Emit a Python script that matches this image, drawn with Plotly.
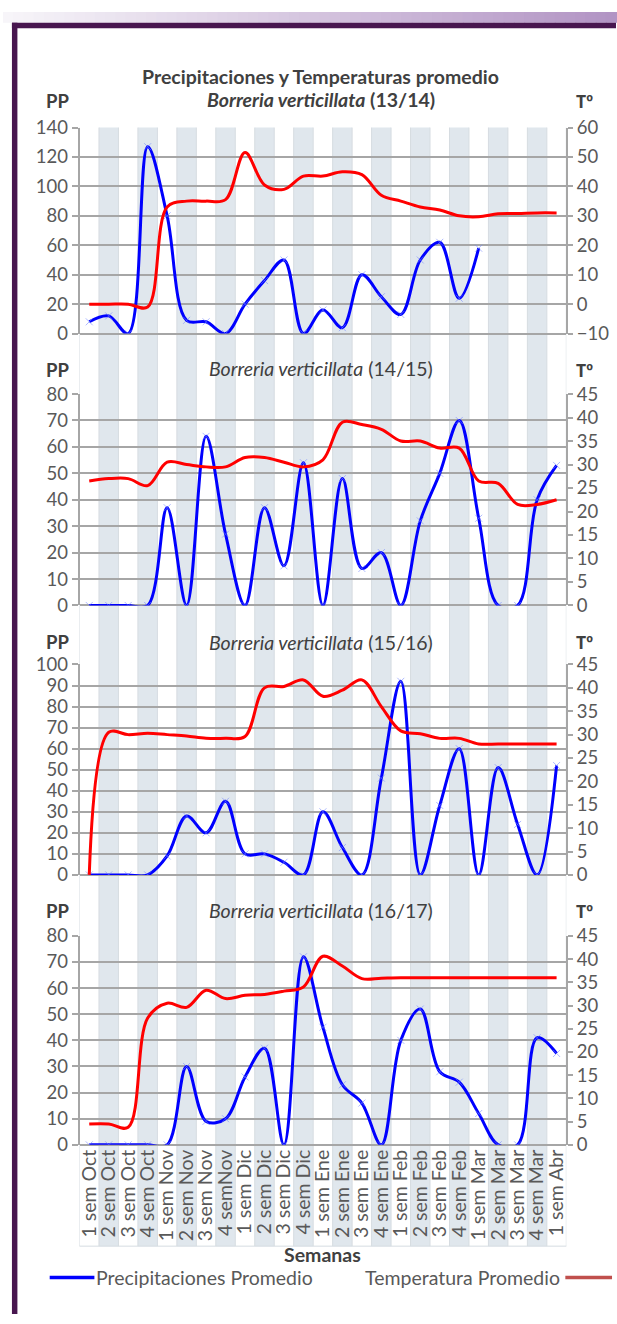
import plotly.graph_objects as go

# ---------------- data ----------------
categories = ["1 sem Oct", "2 sem Oct", "3 sem Oct", "4 sem Oct",
              "1 sem Nov", "2 sem Nov", "3 sem Nov", "4 semNov",
              "1 sem Dic", "2 sem Dic", "3 sem Dic", "4 sem Dic",
              "1 sem Ene", "2 sem Ene", "3 sem Ene", "4 sem Ene",
              "1 sem Feb", "2 sem Feb", "3 sem Feb", "4 sem Feb",
              "1 sem Mar", "2 sem Mar", "3 sem Mar", "4 sem Mar",
              "1 sem Abr"]

seasons = ["13/14", "14/15", "15/16", "16/17"]

pp_1314 = [8, 12, 0, 127, 80, 9, 8, 0, 20, 36, 50, 0, 16, 4, 40, 25, 13, 50, 62, 24, 58,
           None, None, None, None]
t_1314 = [0, 0, 0, -1, 33, 35, 35, 35.5, 51.5, 40.5, 39, 43.5, 43.5, 45, 44, 37, 35, 33,
          32, 30, 29.7, 30.7, 30.8, 31, 31]

pp_1415 = [0, 0, 0, 0, 37, 0, 64, 27, 0, 37, 15, 54, 0, 48, 14, 20, 0, 32, 50, 70, 33,
           0, 0, 40, 53]
t_1415 = [26.5, 27, 27, 25.5, 30.5, 30, 29.5, 29.5, 31.5, 31.5, 30.5, 29.5, 31, 39, 38.5,
          37.5, 35, 35, 33.5, 33.5, 26.5, 26, 21.5, 21.5, 22.5]

pp_1516 = [0, 0, 0, 0, 9, 28, 20, 35, 10, 10, 6, 0, 30, 13, 0, 46, 92, 0, 33, 60, 0,
           51, 24, 0, 52]
t_1516 = [0, 30.5, 30, 30.3, 30, 29.7, 29.2, 29.2, 29.6, 40, 40.3, 41.7, 38.2, 39.5, 41.7,
          36, 30.8, 30.2, 29.2, 29.2, 28, 28, 28, 28, 28]

pp_1617 = [0, 0, 0, 0, 0, 30, 9, 10, 26, 37, 0, 72, 45, 23, 16, 0, 40, 52, 28, 24, 12,
           0, 0, 41, 35]
t_1617 = [4.5, 4.5, 3.8, 27.3, 30.5, 29.6, 33.3, 31.5, 32.2, 32.4, 33.1, 34, 40.6, 38.5,
          35.8, 35.9, 36, 36, 36, 36, 36, 36, 36, 36, 36]

pp_series = [pp_1314, pp_1415, pp_1516, pp_1617]
t_series = [t_1314, t_1415, t_1516, t_1617]

# axis settings per panel
left_ranges = [[0, 140], [0, 80], [0, 100], [0, 80]]
left_steps = [20, 10, 10, 10]
right_ranges = [[-10, 60], [0, 45], [0, 45], [0, 45]]
right_steps = [10, 5, 5, 5]

# ---------------- geometry (pixels) ----------------
W, H = 617, 1324
def fx(p):
    return p / W
def fy(p):
    return 1 - p / H

X0, X1 = 77, 567
panels = [(117.5, 327), (388.5, 603.5), (663.5, 877.5), (939.5, 1152)]
sub_y = [89, 363, 641, 914]
lab_y = [90, 364, 641, 914]

FONT = "Lato"
TICK_COL = "#595959"
TITLE_COL = "#404040"
GRID = "#a6a6a6"
TXT = 19.5

fig = go.Figure()

for k in range(4):
    yl = "y" if k == 0 else f"y{2 * k + 1}"
    yr = f"y{2 * k + 2}"
    fig.add_trace(go.Scatter(
        x=categories, y=pp_series[k], xaxis="x", yaxis=yl,
        mode="lines+markers", showlegend=False,
        line=dict(color="#0000ff", width=3, shape="spline", smoothing=1),
        marker=dict(symbol="x-thin", size=7, color="rgba(110,130,255,0.55)",
                    line=dict(width=1, color="rgba(110,130,255,0.55)")),
    ))
    fig.add_trace(go.Scatter(
        x=categories, y=t_series[k], xaxis="x", yaxis=yr,
        mode="lines", showlegend=False,
        line=dict(color="#ff0000", width=3, shape="spline", smoothing=1),
    ))

layout = dict(
    width=W, height=H,
    margin=dict(l=0, r=0, t=0, b=0),
    paper_bgcolor="white",
    plot_bgcolor="rgba(0,0,0,0)",
    font=dict(family=FONT, size=TXT, color=TICK_COL),
    showlegend=False,
    xaxis=dict(
        domain=[fx(X0), fx(X1)], anchor="y7", type="category",
        range=[-0.5, len(categories) - 0.5],
        tickmode="array", tickvals=categories, ticktext=categories,
        tickangle=-90, tickfont=dict(size=19.5, color=TICK_COL, family=FONT),
        showgrid=False, zeroline=False, showline=False, ticks="",
        fixedrange=True,
    ),
)

for k in range(4):
    top, bot = panels[k]
    lname = "yaxis" if k == 0 else f"yaxis{2 * k + 1}"
    rname = f"yaxis{2 * k + 2}"
    lref = "y" if k == 0 else f"y{2 * k + 1}"
    layout[lname] = dict(
        domain=[fy(bot), fy(top)], anchor="x",
        range=left_ranges[k], dtick=left_steps[k], tick0=0,
        showgrid=True, gridcolor=GRID, gridwidth=1.5,
        zeroline=True, zerolinecolor=GRID, zerolinewidth=1.5,
        showline=True, linecolor=GRID, linewidth=1.5,
        ticks="outside", ticklen=6, tickcolor=GRID, tickwidth=1.5,
        tickfont=dict(size=18.5, color=TICK_COL, family=FONT),
        fixedrange=True,
    )
    layout[rname] = dict(
        overlaying=lref, side="right", anchor="x",
        range=right_ranges[k], dtick=right_steps[k], tick0=0,
        showgrid=False, zeroline=False,
        showline=True, linecolor=GRID, linewidth=1.5,
        ticks="outside", ticklen=5, tickcolor=GRID, tickwidth=1.5,
        tickfont=dict(size=18.5, color=TICK_COL, family=FONT),
        fixedrange=True,
    )

fig.update_layout(**layout)

shapes = []
# gradient strip at top
NSEG = 60
c0 = (247, 245, 249)
c1 = (178, 148, 196)
for i in range(NSEG):
    t = i / (NSEG - 1)
    c = tuple(int(round(c0[j] + (c1[j] - c0[j]) * t)) for j in range(3))
    shapes.append(dict(type="rect", xref="paper", yref="paper",
                       x0=i / NSEG, x1=(i + 1) / NSEG + 0.002, y0=fy(11), y1=1,
                       fillcolor=f"rgb{c}", line=dict(width=0), layer="below"))
# purple frame
FRAME = "#48164f"
shapes.append(dict(type="rect", xref="paper", yref="paper",
                   x0=fx(9), x1=fx(14.5), y0=0, y1=fy(11),
                   fillcolor=FRAME, line=dict(width=0), layer="above"))
shapes.append(dict(type="rect", xref="paper", yref="paper",
                   x0=fx(9), x1=1, y0=fy(16.5), y1=fy(11),
                   fillcolor=FRAME, line=dict(width=0), layer="above"))

# column stripes spanning all panels and the label area
STRIPE = "#e0e7ed"
y_top = fy(panels[0][0])
y_bot = fy(1255)
n = len(categories)
for i in range(n):
    if i % 2 == 1:
        shapes.append(dict(type="rect", xref="x", yref="paper",
                           x0=i - 0.5, x1=i + 0.5, y0=y_bot, y1=y_top,
                           fillcolor=STRIPE, line=dict(width=0), layer="below"))
for i in range(n + 1):
    shapes.append(dict(type="line", xref="x", yref="paper",
                       x0=i - 0.5, x1=i - 0.5, y0=y_bot, y1=y_top,
                       line=dict(color="#d6dce1", width=1), layer="below"))
shapes.append(dict(type="line", xref="paper", yref="paper",
                   x0=fx(X0), x1=fx(X1), y0=y_bot, y1=y_bot,
                   line=dict(color="#d6dce1", width=1), layer="below"))

# legend lines
LEG_Y = 1287
shapes.append(dict(type="line", xref="paper", yref="paper",
                   x0=fx(47), x1=fx(92), y0=fy(LEG_Y), y1=fy(LEG_Y),
                   line=dict(color="#0000ff", width=3.5)))
shapes.append(dict(type="line", xref="paper", yref="paper",
                   x0=fx(566), x1=fx(613), y0=fy(LEG_Y), y1=fy(LEG_Y),
                   line=dict(color="#c0504d", width=3.5)))

ann = []
ann.append(dict(text="<b>Precipitaciones y Temperaturas promedio</b>",
                x=fx(320), y=fy(66), xref="paper", yref="paper",
                showarrow=False, xanchor="center", yanchor="middle",
                font=dict(size=TXT, color=TITLE_COL, family=FONT)))
for k in range(4):
    txt = f"<i>Borreria verticillata</i> ({seasons[k]})"
    if k == 0:
        txt = f"<b>{txt}</b>"
    ann.append(dict(text=txt, x=fx(320), y=fy(sub_y[k]), xref="paper", yref="paper",
                    showarrow=False, xanchor="center", yanchor="middle",
                    font=dict(size=TXT, color=TITLE_COL, family=FONT)))
    ann.append(dict(text="<b>PP</b>", x=fx(55), y=fy(lab_y[k]), xref="paper", yref="paper",
                    showarrow=False, xanchor="center", yanchor="middle",
                    font=dict(size=18.5, color=TITLE_COL, family=FONT)))
    ann.append(dict(text="<b>Tº</b>", x=fx(585), y=fy(lab_y[k]), xref="paper", yref="paper",
                    showarrow=False, xanchor="center", yanchor="middle",
                    font=dict(size=17.5, color=TITLE_COL, family="Open Sans")))
ann.append(dict(text="<b>Semanas</b>", x=fx(322), y=fy(1263), xref="paper", yref="paper",
                showarrow=False, xanchor="center", yanchor="middle",
                font=dict(size=TXT, color=TITLE_COL, family=FONT)))
ann.append(dict(text="Precipitaciones Promedio", x=fx(92), y=fy(LEG_Y), xref="paper",
                yref="paper", showarrow=False, xanchor="left", yanchor="middle",
                font=dict(size=TXT, color=TICK_COL, family=FONT)))
ann.append(dict(text="Temperatura Promedio", x=fx(563), y=fy(LEG_Y), xref="paper",
                yref="paper", showarrow=False, xanchor="right", yanchor="middle",
                font=dict(size=TXT, color=TICK_COL, family=FONT)))

fig.update_layout(shapes=shapes, annotations=ann)

fig.write_html(
    "out.html",
    config={"displayModeBar": False},
    post_script="document.body.style.margin='0px';document.body.style.overflow='hidden';",
)
